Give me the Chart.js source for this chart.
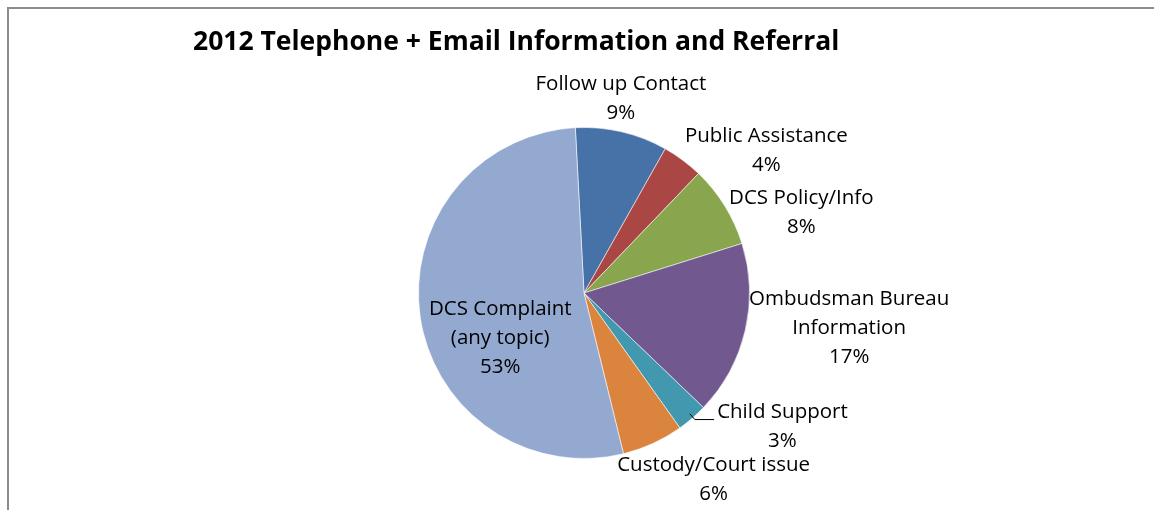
<!DOCTYPE html>
<html>
<head>
<meta charset="utf-8">
<script src="https://cdn.jsdelivr.net/npm/chart.js@4/dist/chart.umd.min.js"></script>
<style>
  html, body { margin: 0; padding: 0; background: #fff; }
  #wrap { position: relative; width: 1154px; height: 510px; }
  canvas { display: block; }
</style>
</head>
<body>
<div id="wrap"><canvas id="c" width="1154" height="510"></canvas></div>
<script>
// Contact categories, in clockwise order from the top of the pie
const categories = [
  ['Follow up Contact'],
  ['Public Assistance'],
  ['DCS Policy/Info'],
  ['Ombudsman Bureau', 'Information'],
  ['Child Support'],
  ['Custody/Court issue'],
  ['DCS Complaint', '(any topic)']
];
// Share of contacts, percent
const shares = [9, 4, 8, 17, 3, 6, 53];
const sliceColors = ['#4672A8', '#AA4744', '#89A54E', '#71588F', '#4198AF', '#DB843D', '#94A9D0'];
const chartTitle = '2012 Telephone + Email Information and Referral';

// Where each label block sits, relative to the pie centre, in units of radius
const labelLayout = [
  { dx: 0.223, dy: -1.172 },
  { dx: 1.102, dy: -0.860 },
  { dx: 1.313, dy: -0.485 },
  { dx: 1.602, dy: 0.214 },
  { dx: 1.199, dy: 0.810 },
  { dx: 0.783, dy: 1.125 },
  { dx: -0.506, dy: 0.275 }
];

const FONT = '"Open Sans", Lato, "Liberation Sans", sans-serif';

// Frame lines along the top and left edge of the chart box
const framePlugin = {
  id: 'frame',
  beforeDraw(chart) {
    const ctx = chart.ctx;
    ctx.save();
    ctx.strokeStyle = '#8c8c8c';
    ctx.lineWidth = 2;
    ctx.beginPath();
    ctx.moveTo(8, 510);
    ctx.lineTo(8, 8);
    ctx.lineTo(1154, 8);
    ctx.stroke();
    ctx.restore();
  }
};

// Bold title drawn at the top left of the plot
const titlePlugin = {
  id: 'leftTitle',
  afterDraw(chart) {
    const ctx = chart.ctx;
    ctx.save();
    ctx.fillStyle = '#000';
    ctx.font = 'bold 26.5px ' + FONT;
    ctx.textBaseline = 'alphabetic';
    ctx.textAlign = 'left';
    ctx.fillText(chartTitle, 193, 50);
    ctx.restore();
  }
};

// Category name and percentage beside each slice
const sliceLabelPlugin = {
  id: 'sliceLabels',
  afterDatasetsDraw(chart) {
    const ctx = chart.ctx;
    const meta = chart.getDatasetMeta(0);
    const total = shares.reduce((a, b) => a + b, 0);
    ctx.save();
    ctx.fillStyle = '#000';
    ctx.font = '20.5px ' + FONT;
    ctx.textAlign = 'center';
    ctx.textBaseline = 'middle';
    const lineH = 29;
    meta.data.forEach((arc, i) => {
      const r = arc.outerRadius;
      const cx = arc.x + labelLayout[i].dx * r;
      const cy = arc.y + labelLayout[i].dy * r;
      const lines = categories[i].concat([Math.round(shares[i] / total * 100) + '%']);
      const top = cy - (lines.length - 1) * lineH / 2;
      lines.forEach((t, k) => ctx.fillText(t, cx, top + k * lineH));

      // short leader for the thin slice whose label sits off its edge
      if (i === 4) {
        const mid = (arc.startAngle + arc.endAngle) / 2;
        const px = arc.x + Math.cos(mid) * (r - 2);
        const py = arc.y + Math.sin(mid) * (r - 2);
        const w = ctx.measureText(lines[0]).width;
        const lx = cx - w / 2 - 3;
        const ly = top + 7;
        ctx.save();
        ctx.strokeStyle = '#000';
        ctx.lineWidth = 1;
        ctx.beginPath();
        ctx.moveTo(px - 1, py - 3);
        ctx.lineTo(px + 4, ly);
        ctx.lineTo(lx, ly);
        ctx.stroke();
        ctx.restore();
      }
    });
    ctx.restore();
  }
};

new Chart(document.getElementById('c'), {
  type: 'pie',
  data: {
    labels: categories.map(c => c.join(' ')),
    datasets: [{
      data: shares,
      backgroundColor: sliceColors,
      borderColor: 'rgba(255,255,255,0.55)',
      borderWidth: 1
    }]
  },
  options: {
    responsive: false,
    animation: false,
    rotation: -3,
    layout: { padding: { left: 418, right: 404, top: 127, bottom: 51 } },
    plugins: {
      legend: { display: false },
      title: { display: false },
      tooltip: { enabled: false }
    }
  },
  plugins: [framePlugin, titlePlugin, sliceLabelPlugin]
});
</script>
</body>
</html>
